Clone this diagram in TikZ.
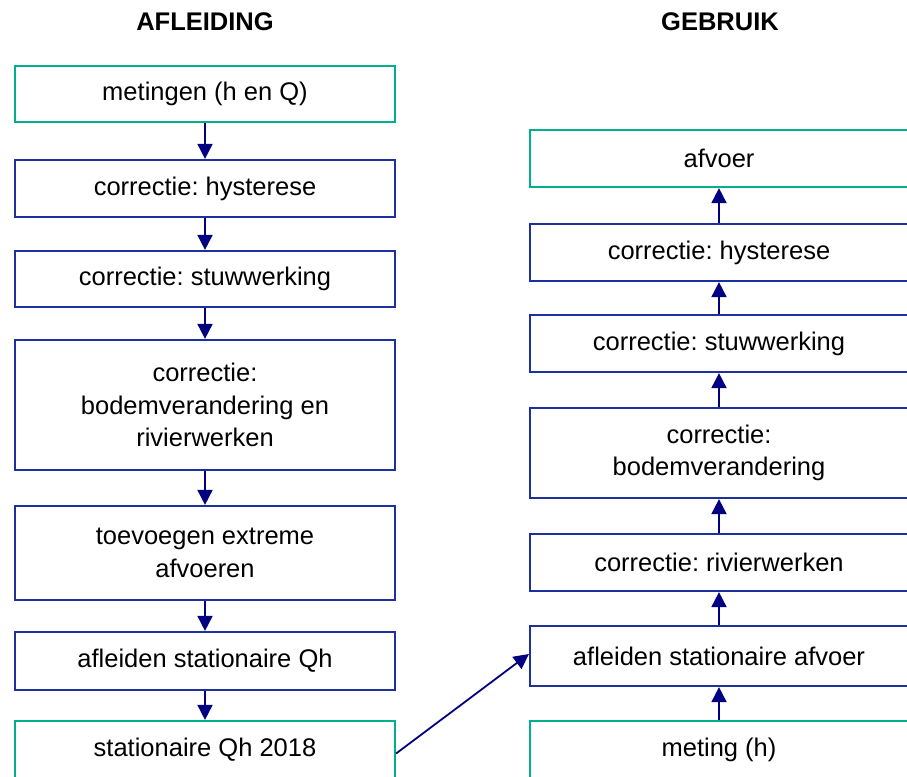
\documentclass[tikz,border=0pt]{standalone}
\usepackage{fontspec}
\setmainfont{Liberation Sans}
\usetikzlibrary{arrows.meta}
\definecolor{boxgreen}{RGB}{0,176,140}
\definecolor{boxblue}{RGB}{28,48,160}
\definecolor{arrnavy}{RGB}{0,0,128}
\frenchspacing
\begin{document}
\begin{tikzpicture}[x=1pt,y=-1pt,
  every node/.style={font=\fontsize{25.5}{32.5}\selectfont, align=center, inner sep=0pt},
  bluebox/.style={draw=boxblue, line width=2.2pt, rectangle},
  greenbox/.style={draw=boxgreen, line width=2.2pt, rectangle},
  lbox/.style={minimum width=380pt},
  rbox/.style={minimum width=378pt},
  flow/.style={draw=arrnavy, line width=1.8pt, -{Triangle[width=15pt,length=15pt]}},
  hdr/.style={font=\fontsize{25.5}{30}\selectfont\bfseries}
]
\useasboundingbox (0,0) rectangle (907,776);
\clip (0,0) rectangle (907,776);
\fill[white] (0,0) rectangle (907,776);

\node[hdr] (h1) at (205,22) {AFLEIDING};
\node[hdr] (h2) at (720,22) {GEBRUIK};

% left column
\node[greenbox,lbox,minimum height=56pt] (l1) at (205,94) {metingen (h en Q)};
\node[bluebox,lbox,minimum height=57pt] (l2) at (205,188.5) {correctie: hysterese};
\node[bluebox,lbox,minimum height=56pt] (l3) at (205,279) {correctie: stuwwerking};
\node[bluebox,lbox,minimum height=130pt] (l4) at (205,405) {correctie:\\bodemverandering en\\rivierwerken};
\node[bluebox,lbox,minimum height=94pt] (l5) at (205,553) {toevoegen extreme\\afvoeren};
\node[bluebox,lbox,minimum height=58pt] (l6) at (205,661) {afleiden stationaire Qh};
\node[greenbox,lbox,minimum height=57pt] (l7) at (205,749.5) {stationaire Qh 2018};

% right column
\node[greenbox,rbox,minimum height=57pt] (r1) at (719,158.5) {afvoer};
\node[bluebox,rbox,minimum height=57pt] (r2) at (719,252.5) {correctie: hysterese};
\node[bluebox,rbox,minimum height=57pt] (r3) at (719,343.5) {correctie: stuwwerking};
\node[bluebox,rbox,minimum height=90pt] (r4) at (719,453) {correctie:\\bodemverandering};
\node[bluebox,rbox,minimum height=57pt] (r5) at (719,562.5) {correctie: rivierwerken};
\node[bluebox,rbox,minimum height=60pt] (r6) at (719,656) {afleiden stationaire afvoer};
\node[greenbox,rbox,minimum height=57pt] (r7) at (719,749.5) {meting (h)};

% left arrows
\draw[flow] (l1) -- (l2);
\draw[flow] (l2) -- (l3);
\draw[flow] (l3) -- (l4);
\draw[flow] (l4) -- (l5);
\draw[flow] (l5) -- (l6);
\draw[flow] (l6) -- (l7);

% right arrows
\draw[flow] (r7) -- (r6);
\draw[flow] (r6) -- (r5);
\draw[flow] (r5) -- (r4);
\draw[flow] (r4) -- (r3);
\draw[flow] (r3) -- (r2);
\draw[flow] (r2) -- (r1);

% cross arrow
\draw[flow] ([yshift=-4pt]l7.east) -- ([yshift=2pt]r6.west);
\end{tikzpicture}
\end{document}
